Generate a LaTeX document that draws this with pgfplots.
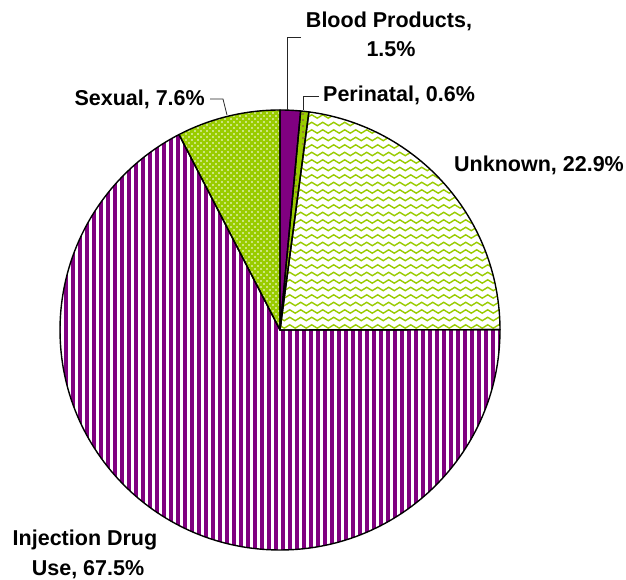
\documentclass[border=0pt]{standalone}
\usepackage{fontspec}
\setmainfont{Liberation Sans}
\usepackage{pgfplots}
\usepackage{pgfplotstable}
\pgfplotsset{compat=1.18}
\definecolor{piepurple}{RGB}{128,0,128}
\definecolor{piegreen}{RGB}{153,204,0}
\definecolor{piebrown}{RGB}{140,60,90}

\newcommand\labfont{\fontsize{21.5}{25}\selectfont\bfseries}

\pgfplotstableread{
label value
Blood 1.5
Perinatal 0.6
Unknown 22.9
Injection 67.5
Sexual 7.6
}\piedata

% wedge path: #1 start angle, #2 end angle
\newcommand\wedgepath[2]{(axis cs:280,250) -- ++(#1:220pt) arc[start angle=#1, end angle=#2, radius=220pt] -- cycle}
\newcommand\wv{sin ++(2.75pt,1.7pt) cos ++(2.75pt,-1.7pt) sin ++(2.75pt,-1.7pt) cos ++(2.75pt,1.7pt) }
\newcommand\wvv{\wv\wv\wv\wv\wv\wv\wv}
\newcommand\dt{++(0pt,6pt) circle[radius=0.9pt] }
\newcommand\dtt{\dt\dt\dt\dt\dt\dt\dt\dt\dt\dt}

\begin{document}
\begin{tikzpicture}
\pgfplotstablegetelem{0}{value}\of\piedata \let\vA\pgfplotsretval
\pgfplotstablegetelem{1}{value}\of\piedata \let\vB\pgfplotsretval
\pgfplotstablegetelem{2}{value}\of\piedata \let\vC\pgfplotsretval
\pgfplotstablegetelem{3}{value}\of\piedata \let\vD\pgfplotsretval
\pgfplotstablegetelem{4}{value}\of\piedata \let\vE\pgfplotsretval
\pgfmathsetmacro\tot{\vA+\vB+\vC+\vD+\vE}
\pgfmathsetmacro\aA{90}
\pgfmathsetmacro\aB{\aA-\vA/\tot*360}
\pgfmathsetmacro\aC{\aB-\vB/\tot*360}
\pgfmathsetmacro\aD{\aC-\vC/\tot*360}
\pgfmathsetmacro\aE{\aD-\vD/\tot*360}
\pgfmathsetmacro\aF{\aE-\vE/\tot*360}
\begin{axis}[hide axis, scale only axis, width=626pt, height=580pt,
  xmin=0, xmax=626, ymin=0, ymax=580, clip=false]
% Blood products
\fill[piepurple] \wedgepath{\aA}{\aB};
% Perinatal
\begin{scope}
\clip \wedgepath{\aB}{\aC};
\fill[piegreen] (axis cs:270,240) rectangle (axis cs:320,480);
\pgfplotsinvokeforeach{282,289,...,310}{
  \fill[piebrown] (axis cs:#1,244) \dtt\dtt\dtt\dtt;
}
\end{scope}
% Unknown: white with green waves
\begin{scope}
\clip \wedgepath{\aC}{\aD};
\fill[white] (axis cs:275,245) rectangle (axis cs:505,475);
\pgfplotsinvokeforeach{253.5,261,...,476}{
  \draw[piegreen, line width=1.4pt] (axis cs:276,#1) \wvv\wvv\wvv;
}
\end{scope}
% Injection drug use: purple vertical stripes
\begin{scope}
\clip \wedgepath{\aD}{\aE};
\fill[white] (axis cs:55,25) rectangle (axis cs:505,475);
\pgfplotsinvokeforeach{57,64,...,505}{
  \fill[piepurple] (axis cs:#1,25) rectangle ++(3.6pt,452pt);
}
\end{scope}
% Sexual: green with white dots
\begin{scope}
\clip \wedgepath{\aE}{\aF};
\fill[piegreen] (axis cs:165,245) rectangle (axis cs:285,475);
\pgfplotsinvokeforeach{168,174,...,288}{
  \fill[white] (axis cs:#1,242) \dtt\dtt\dtt\dtt;
  \fill[white] (axis cs:#1,245) ++(3pt,0pt) \dtt\dtt\dtt\dtt;
}
\end{scope}
% outlines
\draw[line width=1.4pt, line join=round] \wedgepath{\aA}{\aB};
\draw[line width=1.4pt, line join=round] \wedgepath{\aB}{\aC};
\draw[line width=1.4pt, line join=round] \wedgepath{\aC}{\aD};
\draw[line width=1.4pt, line join=round] \wedgepath{\aD}{\aE};
\draw[line width=1.4pt, line join=round] \wedgepath{\aE}{\aF};
% leader lines
\draw[line width=0.8pt, black!85] (axis cs:301,543) -- (axis cs:287,543) -- (axis cs:287,470);
\draw[line width=0.8pt, black!85] (axis cs:319,484) -- (axis cs:303,484) -- (axis cs:303,470);
\draw[line width=0.8pt, black!85] (axis cs:210,481) -- (axis cs:223,481) -- (axis cs:227,465);
% labels
\node[anchor=base, font=\labfont, inner sep=0pt] at (axis cs:389,552) {Blood Products,};
\node[anchor=base, font=\labfont, inner sep=0pt] at (axis cs:391,523) {1.5\%};
\node[anchor=base west, font=\labfont, inner sep=0pt] at (axis cs:323,478) {Perinatal, 0.6\%};
\node[anchor=base east, font=\labfont, inner sep=0pt] at (axis cs:205,474) {Sexual, 7.6\%};
\node[anchor=base, font=\labfont, inner sep=0pt] at (axis cs:539,408) {Unknown, 22.9\%};
\node[anchor=base, font=\labfont, inner sep=0pt] at (axis cs:85,34) {Injection Drug};
\node[anchor=base, font=\labfont, inner sep=0pt] at (axis cs:88,4) {Use, 67.5\%};
\end{axis}
\pgfresetboundingbox
\path[use as bounding box] (current axis.south west) rectangle (current axis.north east);
\end{tikzpicture}
\end{document}
